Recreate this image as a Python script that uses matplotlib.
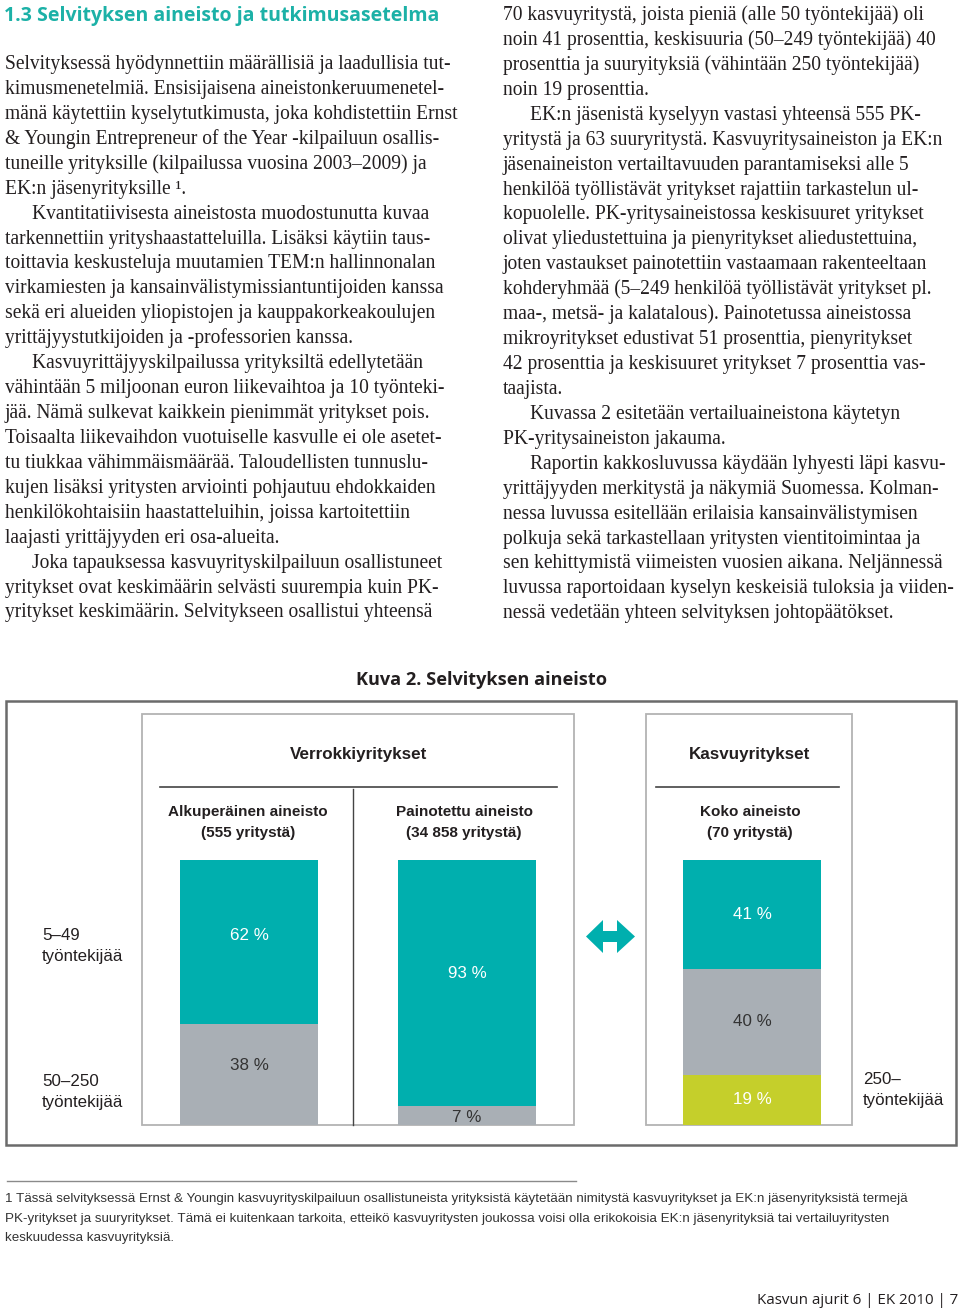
import matplotlib
matplotlib.use("Agg")
import numpy as np
import matplotlib.pyplot as plt
from matplotlib.patches import Rectangle, Polygon
from matplotlib import font_manager

# ---------------- data ----------------
groups = ["Verrokkiyritykset", "Kasvuyritykset"]
categories = ["Alkuperäinen aineisto\n(555 yritystä)",
              "Painotettu aineisto\n(34 858 yritystä)",
              "Koko aineisto\n(70 yritystä)"]
share_5_49 = [62, 93, 41]
share_50_250 = [38, 7, 40]
share_250 = [0, 0, 19]
size_labels = ["5–49\ntyöntekijää", "50–250\ntyöntekijää", "250–\ntyöntekijää"]

title = "1.3 Selvityksen aineisto ja tutkimusasetelma"
left_col = [
    (0, "Selvityksessä hyödynnettiin määrällisiä ja laadullisia tut-"),
    (0, "kimusmenetelmiä. Ensisijaisena aineistonkeruumenetel-"),
    (0, "mänä käytettiin kyselytutkimusta, joka kohdistettiin Ernst"),
    (0, "& Youngin Entrepreneur of the Year -kilpailuun osallis-"),
    (0, "tuneille yrityksille (kilpailussa vuosina 2003–2009) ja"),
    (0, "EK:n jäsenyrityksille ¹."),
    (1, "Kvantitatiivisesta aineistosta muodostunutta kuvaa"),
    (0, "tarkennettiin yrityshaastatteluilla. Lisäksi käytiin taus-"),
    (0, "toittavia keskusteluja muutamien TEM:n hallinnonalan"),
    (0, "virkamiesten ja kansainvälistymissiantuntijoiden kanssa"),
    (0, "sekä eri alueiden yliopistojen ja kauppakorkeakoulujen"),
    (0, "yrittäjyystutkijoiden ja -professorien kanssa."),
    (1, "Kasvuyrittäjyyskilpailussa yrityksiltä edellytetään"),
    (0, "vähintään 5 miljoonan euron liikevaihtoa ja 10 työnteki-"),
    (0, "jää. Nämä sulkevat kaikkein pienimmät yritykset pois."),
    (0, "Toisaalta liikevaihdon vuotuiselle kasvulle ei ole asetet-"),
    (0, "tu tiukkaa vähimmäismäärää. Taloudellisten tunnuslu-"),
    (0, "kujen lisäksi yritysten arviointi pohjautuu ehdokkaiden"),
    (0, "henkilökohtaisiin haastatteluihin, joissa kartoitettiin"),
    (0, "laajasti yrittäjyyden eri osa-alueita."),
    (1, "Joka tapauksessa kasvuyrityskilpailuun osallistuneet"),
    (0, "yritykset ovat keskimäärin selvästi suurempia kuin PK-"),
    (0, "yritykset keskimäärin. Selvitykseen osallistui yhteensä"),
]
right_col = [
    (0, "70 kasvuyritystä, joista pieniä (alle 50 työntekijää) oli"),
    (0, "noin 41 prosenttia, keskisuuria (50–249 työntekijää) 40"),
    (0, "prosenttia ja suuryityksiä (vähintään 250 työntekijää)"),
    (0, "noin 19 prosenttia."),
    (1, "EK:n jäsenistä kyselyyn vastasi yhteensä 555 PK-"),
    (0, "yritystä ja 63 suuryritystä. Kasvuyritysaineiston ja EK:n"),
    (0, "jäsenaineiston vertailtavuuden parantamiseksi alle 5"),
    (0, "henkilöä työllistävät yritykset rajattiin tarkastelun ul-"),
    (0, "kopuolelle. PK-yritysaineistossa keskisuuret yritykset"),
    (0, "olivat yliedustettuina ja pienyritykset aliedustettuina,"),
    (0, "joten vastaukset painotettiin vastaamaan rakenteeltaan"),
    (0, "kohderyhmää (5–249 henkilöä työllistävät yritykset pl."),
    (0, "maa-, metsä- ja kalatalous). Painotetussa aineistossa"),
    (0, "mikroyritykset edustivat 51 prosenttia, pienyritykset"),
    (0, "42 prosenttia ja keskisuuret yritykset 7 prosenttia vas-"),
    (0, "taajista."),
    (1, "Kuvassa 2 esitetään vertailuaineistona käytetyn"),
    (0, "PK-yritysaineiston jakauma."),
    (1, "Raportin kakkosluvussa käydään lyhyesti läpi kasvu-"),
    (0, "yrittäjyyden merkitystä ja näkymiä Suomessa. Kolman-"),
    (0, "nessa luvussa esitellään erilaisia kansainvälistymisen"),
    (0, "polkuja sekä tarkastellaan yritysten vientitoimintaa ja"),
    (0, "sen kehittymistä viimeisten vuosien aikana. Neljännessä"),
    (0, "luvussa raportoidaan kyselyn keskeisiä tuloksia ja viiden-"),
    (0, "nessä vedetään yhteen selvityksen johtopäätökset."),
]
figure_title = "Kuva 2. Selvityksen aineisto"
footnote = [
    "1 Tässä selvityksessä Ernst & Youngin kasvuyrityskilpailuun osallistuneista yrityksistä käytetään nimitystä kasvuyritykset ja EK:n jäsenyrityksistä termejä",
    "PK-yritykset ja suuryritykset. Tämä ei kuitenkaan tarkoita, etteikö kasvuyritysten joukossa voisi olla erikokoisia EK:n jäsenyrityksiä tai vertailuyritysten",
    "keskuudessa kasvuyrityksiä.",
]
footer = "Kasvun ajurit 6 | EK 2010 | 7"

# ---------------- style / layout ----------------
W, H = 960, 1308
TEAL = "#00AFAE"
GRAY = "#A9AFB5"
GREEN = "#C5CF2B"
TITLE_TEAL = "#1CB1A7"
INK = "#231F20"
SERIF = "Liberation Serif"
SANS = "Liberation Sans"
ROUND = "Open Sans"
installed = {f.name for f in font_manager.fontManager.ttflist}
NARROW = "Liberation Sans Narrow" if "Liberation Sans Narrow" in installed else SANS

fig = plt.figure(figsize=(W / 100, H / 100), dpi=100)
page = fig.add_axes([0, 0, 1, 1])
page.set_xlim(0, W)
page.set_ylim(H, 0)
page.axis("off")
renderer = fig.canvas.get_renderer()


def fit(text, target_px, **kw):
    t = page.text(0, 0, text, fontsize=10, **kw)
    w = t.get_window_extent(renderer).width
    t.remove()
    return 10 * target_px / w


# title
ts = fit(title, 435, family=ROUND, weight="bold")
page.text(4, 21, title, fontsize=ts, family=ROUND, weight="bold",
          color=TITLE_TEAL, va="baseline", ha="left")

# body text
bs = fit(left_col[0][1], 448, family=SERIF)
LS = 24.93
for i, (ind, line) in enumerate(left_col):
    page.text(5 + 27 * ind, 69 + LS * i, line, fontsize=bs, family=SERIF,
              color=INK, va="baseline", ha="left")
for i, (ind, line) in enumerate(right_col):
    page.text(503 + 27 * ind, 20 + LS * i, line, fontsize=bs, family=SERIF,
              color=INK, va="baseline", ha="left")

# figure title
fs = fit(figure_title, 251, family=ROUND, weight="bold")
page.text(481.5, 685, figure_title, fontsize=fs, family=ROUND, weight="bold",
          color=INK, ha="center", va="baseline")

# frames
page.add_patch(Rectangle((6, 701), 950, 444, fill=False, ec="#6b6b6b", lw=1.8))
page.add_patch(Rectangle((142, 714), 432, 411, fill=False, ec="#b3b3b3", lw=1.3))
page.add_patch(Rectangle((646, 714), 206, 411, fill=False, ec="#b3b3b3", lw=1.3))
page.plot([160, 557], [787, 787], color="#444444", lw=1.2)
page.plot([656, 839], [787, 787], color="#444444", lw=1.2)
page.plot([353, 353], [789, 1125], color="#444444", lw=1.0)

gs = fit(groups[0], 138, family=SANS, weight="bold")
page.text(359, 759, groups[0], fontsize=gs, family=SANS, weight="bold",
          color=INK, ha="center", va="baseline")
page.text(750, 759, groups[1], fontsize=gs, family=SANS, weight="bold",
          color=INK, ha="center", va="baseline")

cs = fit("Alkuperäinen aineisto", 159, family=SANS, weight="bold")
cat_x = [248, 464, 750]
for x, c in zip(cat_x, categories):
    l1, l2 = c.split("\n")
    page.text(x, 816, l1, fontsize=cs, family=SANS, weight="bold",
              color=INK, ha="center", va="baseline")
    page.text(x, 837, l2, fontsize=cs, family=SANS, weight="bold",
              color=INK, ha="center", va="baseline")

ls = fit("työntekijää", 81, family=SANS)
for (x, y), lab in zip([(42, 940), (42, 1086), (863, 1084)], size_labels):
    l1, l2 = lab.split("\n")
    page.text(x, y, l1, fontsize=ls, family=SANS, color=INK, ha="left", va="baseline")
    page.text(x, y + 21, l2, fontsize=ls, family=SANS, color=INK, ha="left", va="baseline")

# double arrow
arrow = [(586, 936.5), (603, 920), (603, 931), (617, 931), (617, 920), (635, 936.5),
         (617, 953), (617, 942), (603, 942), (603, 953)]
page.add_patch(Polygon(arrow, closed=True, color=TEAL, lw=0))

# ---------------- bars ----------------
ax = fig.add_axes([0, (H - 1125) / H, 1, 265 / H])
ax.set_xlim(0, W)
ax.set_ylim(0, 100)
ax.axis("off")
ax.patch.set_alpha(0)
bar_x = [249, 467, 752]
bw = 138
large = np.array(share_250, float)
medium = np.array(share_50_250, float)
small = np.array(share_5_49, float)
ax.bar(bar_x, large, width=bw, color=GREEN, lw=0)
ax.bar(bar_x, medium, width=bw, bottom=large, color=GRAY, lw=0)
ax.bar(bar_x, small, width=bw, bottom=large + medium, color=TEAL, lw=0)

ps = fit("62 %", 39, family=SANS)
offs_small = [2.5, 3.5, 0.0]
offs_medium = [3.5, -0.5, 0.0]
for i, x in enumerate(bar_x):
    ax.text(x, large[i] + medium[i] + small[i] / 2 + offs_small[i], f"{share_5_49[i]} %",
            fontsize=ps, family=SANS, color="white", ha="center", va="center")
    ax.text(x, large[i] + medium[i] / 2 + offs_medium[i], f"{share_50_250[i]} %",
            fontsize=ps, family=SANS, color="#333333", ha="center", va="center")
    if share_250[i] > 0:
        ax.text(x, large[i] / 2, f"{share_250[i]} %",
                fontsize=ps, family=SANS, color="white", ha="center", va="center")

# ---------------- footnote & footer ----------------
page.plot([7, 576], [1181, 1181], color="#8a8a8a", lw=1.0)
fns = fit(footnote[0], 906, family=NARROW)
for i, line in enumerate(footnote):
    page.text(5, 1202 + 19.6 * i, line, fontsize=fns, family=NARROW, color="#333333",
              ha="left", va="baseline")
frs = fit(footer, 202, family=ROUND)
page.text(958, 1304, footer, fontsize=frs, family=ROUND, color=INK,
          ha="right", va="baseline")

fig.savefig("out.png", dpi=100)
